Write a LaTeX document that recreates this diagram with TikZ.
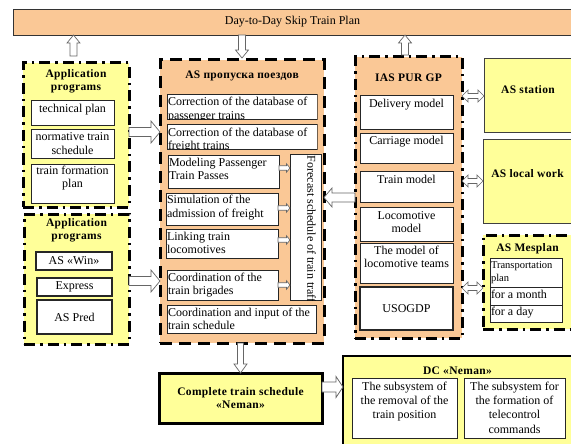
\documentclass[tikz,border=0pt]{standalone}
\usepackage{fontspec}
\setmainfont{Liberation Serif}
\newfontfamily\ttlfont{Liberation Serif}[LetterSpace=3]
\usetikzlibrary{calc}
\definecolor{peach}{HTML}{FAC896}
\definecolor{lyel}{HTML}{FFFF99}
\newcommand\ttl{\ttlfont\bfseries\fontsize{11.5}{13}\selectfont}
\newcommand\bl[4][12]{\parbox[t][#3pt][t]{#2pt}{\raggedright\leftskip=1pt\rule{0pt}{#1pt}#4}}
\newcommand\bc[4][12]{\parbox[t][#3pt][t]{#2pt}{\centering\rule{0pt}{#1pt}#4}}
\tikzset{
  ars/.store in=\arS, arh/.store in=\arH, arl/.store in=\arL,
  ars=4, arh=10, arl=9,
  ibox/.style={draw=black!85, fill=white, line width=0.8pt, inner sep=0pt, outer sep=0pt, anchor=north west},
  obox/.style={inner sep=0pt, outer sep=0pt, anchor=north west, line width=3pt},
  dd/.style={dash pattern=on 11pt off 5pt on 2.5pt off 5pt},
  dsh/.style={dash pattern=on 12pt off 7pt},
  blk/.style={draw=black!60, fill=white, line width=0.7pt, to path={
    let \p1=(\tikztostart), \p2=(\tikztotarget),
        \n1={veclen(\x2-\x1,\y2-\y1)}, \n2={atan2(\y2-\y1,\x2-\x1)}, \n3={\n1-\arL pt}
    in ($(\p1)+(\n2+90:\arS pt)$)
    -- ($(\p1)+(\n2:\n3)+(\n2+90:\arS pt)$)
    -- ($(\p1)+(\n2:\n3)+(\n2+90:\arH pt)$)
    -- (\p2)
    -- ($(\p1)+(\n2:\n3)+(\n2-90:\arH pt)$)
    -- ($(\p1)+(\n2:\n3)+(\n2-90:\arS pt)$)
    -- ($(\p1)+(\n2-90:\arS pt)$) -- cycle}},
  dblk/.style={draw=black!60, fill=white, line width=0.7pt, to path={
    let \p1=(\tikztostart), \p2=(\tikztotarget),
        \n1={veclen(\x2-\x1,\y2-\y1)}, \n2={atan2(\y2-\y1,\x2-\x1)}, \n3={\n1-\arL pt}
    in (\p1)
    -- ($(\p1)+(\n2:\arL pt)+(\n2+90:\arH pt)$)
    -- ($(\p1)+(\n2:\arL pt)+(\n2+90:\arS pt)$)
    -- ($(\p1)+(\n2:\n3)+(\n2+90:\arS pt)$)
    -- ($(\p1)+(\n2:\n3)+(\n2+90:\arH pt)$)
    -- (\p2)
    -- ($(\p1)+(\n2:\n3)+(\n2-90:\arH pt)$)
    -- ($(\p1)+(\n2:\n3)+(\n2-90:\arS pt)$)
    -- ($(\p1)+(\n2:\arL pt)+(\n2-90:\arS pt)$)
    -- ($(\p1)+(\n2:\arL pt)+(\n2-90:\arH pt)$) -- cycle}},
}
\begin{document}
\begin{tikzpicture}[x=1pt,y=-1pt,font=\fontsize{12}{13.4}\selectfont]
\useasboundingbox (0,0) rectangle (571,444);
\fill[white] (0,0) rectangle (571,444);

% top bar
\node[obox, fill=peach, draw=black!80, line width=0.8pt, minimum width=559pt, minimum height=26pt] (plan) at (13,9) {Day-to-Day Skip Train Plan};

% left top application programs
\node[obox, fill=lyel, draw, dd] (lap) at (23,63) {\bc[15]{106}{144}{\ttl Application\\programs}};
\node[ibox] (tpl1) at (31,100) {\bc[13]{83}{25}{technical plan}};
\node[ibox] (nts) at (31,129) {\bc{83}{29}{normative train\\schedule}};
\node[ibox] (tfp) at (31,164) {\bc[10.5]{83}{39}{train formation\\plan}};

% left bottom application programs
\node[obox, fill=lyel, draw, dd] (lbp) at (24,214) {\bc[12.5]{105}{130}{\ttl Application\\programs}};
\node[ibox, line width=1.2pt, minimum width=76pt, minimum height=18pt] (win) at (36,252) {AS «Win»};
\node[ibox, line width=1.2pt, minimum width=75pt, minimum height=18pt] (expr) at (37,278) {Express};
\node[ibox, line width=1.2pt, minimum width=75pt, minimum height=34pt] (pred) at (37,300) {AS Pred};

% AS box
\node[obox, fill=peach, draw, dsh] (asb) at (160,60) {\bc[19]{164}{283}{\ttl AS пропуска поездов}};
\begin{scope}
  \clip (166.5,93.5) rectangle (317.5,119.5);
  \node[ibox] (cp) at (167,94) {\bl{150}{25}{Correction of the database of\\passenger trains}};
\end{scope}
\begin{scope}
  \clip (166.5,123.5) rectangle (317.5,149.5);
  \node[ibox] (cf) at (167,124) {\bl{150}{25}{Correction of the database of\\freight trains}};
\end{scope}
\node[ibox] (mp) at (168,155) {\bl[11]{111}{33}{Modeling Passenger\\Train Passes}};
\node[ibox] (sim) at (166,193) {\bl[11]{112}{32}{Simulation of the\\admission of freight}};
\node[ibox] (lk) at (166,229) {\bl[11]{112}{29}{Linking train\\locomotives}};
\node[ibox] (cb) at (167,270) {\bl[11.5]{111}{30}{Coordination of the\\train brigades}};
\node[ibox, minimum width=31pt, minimum height=146pt] (fc) at (290,154) {};
\begin{scope}
  \clip (fc.north west) rectangle (fc.south east);
  \node[rotate=-90, anchor=west, inner sep=1.5pt] (fct) at ([xshift=6pt]fc.north) {Forecast schedule of train traffic};
\end{scope}
\node[ibox] (ci) at (167,305) {\bl[11]{149}{28}{Coordination and input of the\\train schedule}};

% IAS box
\node[obox, fill=peach, draw, dd] (ias) at (355,57) {\bc[25]{107}{281}{\ttl IAS PUR GP}};
\node[ibox] (dm) at (360,95) {\bc[13]{93}{34}{Delivery model}};
\node[ibox] (cm) at (360,133) {\bc[11.5]{93}{30}{Carriage model}};
\node[ibox] (tm) at (360,171) {\bc{93}{31}{Train model}};
\node[ibox] (lm) at (360,207) {\bc{93}{34}{Locomotive\\model}};
\node[ibox] (mt) at (360,243) {\bc[11]{93}{40}{The model of\\locomotive teams}};
\node[ibox, line width=2pt, minimum width=93pt, minimum height=43pt] (us) at (360,287) {USOGDP};

% right boxes
\node[obox, fill=lyel, draw=black!75, line width=0.8pt] (st) at (484,58) {\bc[35.5]{88}{74}{\ttl AS station}};
\node[obox, fill=lyel, draw=black!75, line width=0.8pt] (lw) at (483,139) {\bc[39]{89}{84}{\ttl AS local work}};
\node[obox, fill=lyel, draw, dd] (mes) at (483,235) {\bc[16.5]{89}{94}{\ttl AS Mesplan}};
\node[ibox] (tpn) at (490,258) {\bl[10.5]{72}{29}{\fontsize{10.5}{13}\selectfont Transportation\\plan}};
\node[ibox] (fmo) at (490,287) {\bl[11]{72}{18}{for a month}};
\node[ibox] (fda) at (490,305) {\bl[10]{72}{17}{for a day}};

% bottom boxes
\node[obox, fill=lyel, draw, line width=3pt, minimum width=163pt, minimum height=50pt, align=center, font=\ttl] (ct) at (159,373) {Complete train schedule\\«Neman»};
\node[obox, fill=lyel, draw, line width=2.5pt] (dc) at (343,356) {\bc[18.5]{229}{90}{\ttl DC «Neman»}};
\node[ibox] (dcl) at (352,378) {\bc[12.5]{105}{60}{\fontsize{12}{14.2}\selectfont The subsystem of\\the removal of the\\train position}};
\node[ibox] (dcr) at (464,378) {\bc[12.5]{101}{60}{\fontsize{12}{14.2}\selectfont The subsystem for\\the formation of\\telecontrol\\commands}};

% arrows
\coordinate (u1) at ([xshift=50.5pt,yshift=7pt]lap.north west);
\coordinate (u3) at ([xshift=-3.5pt,yshift=2pt]ias.north);
\draw[blk, ars=3.5, arh=6.5, arl=8] (u1) to (u1 |- plan.south);
\draw[blk, ars=3.5, arh=6.5, arl=8] (asb.north |- plan.south) to ([yshift=2pt]asb.north);
\draw[blk, ars=3.5, arh=6.5, arl=8] (u3) to (u3 |- plan.south);
\draw[blk, ars=4.5, arh=11, arl=9] (lap.east |- 0,132) to (asb.west |- 0,132);
\draw[blk, ars=4.5, arh=11, arl=9] (lbp.east |- 0,281) to (asb.west |- 0,281);
\draw[blk, ars=4.5, arh=9.5, arl=8] (ias.west |- 0,197.5) to (asb.east |- 0,197.5);
\foreach \src/\yy in {mp/168, sim/208, lk/240, cb/285}
  \draw[blk, ars=2.3, arh=4.2, arl=3.5] (\src.east |- 0,\yy) to (fc.west |- 0,\yy);
\draw[dblk, ars=2.5, arh=6, arl=6] (ias.east |- 0,96) to (st.west |- 0,96);
\draw[dblk, ars=2.5, arh=6, arl=6] (ias.east |- 0,181) to (lw.west |- 0,181);
\draw[dblk, ars=2.5, arh=6, arl=6] (ias.east |- 0,288) to (mes.west |- 0,288);
\draw[blk, ars=3, arh=6.5, arl=9] (ct.north |- asb.south) to (ct.north);
\draw[blk, ars=5, arh=10.5, arl=7] (ct.east |- 0,387) to (dc.west |- 0,387);
\end{tikzpicture}
\end{document}
